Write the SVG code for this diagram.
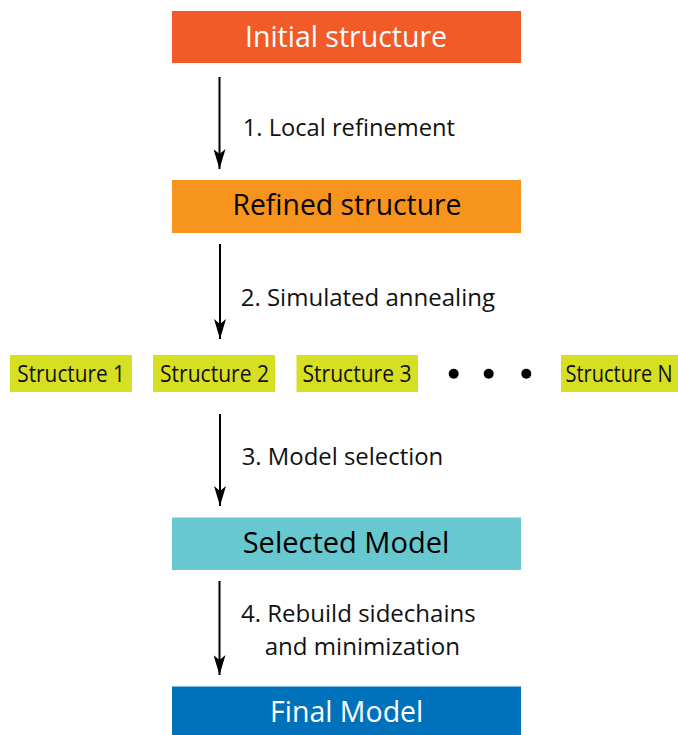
<svg xmlns="http://www.w3.org/2000/svg" width="678" height="735" viewBox="0 0 678 735">
<defs>
<marker id="ah" markerWidth="20" markerHeight="12" refX="20" refY="6" orient="auto" markerUnits="userSpaceOnUse" viewBox="0 0 20 12">
<path d="M0,0 L20,6 L0,12 L5,6 Z" fill="#000"/>
</marker>
<style>
text{font-family:"Open Sans","Noto Sans","Liberation Sans",sans-serif}
.title{font-size:30px}
.lbl{font-size:23px;fill:#111}
.st{font-size:23px;fill:#111}
.conn line{stroke:#000;stroke-width:2;fill:none}
</style>
</defs>
<rect width="678" height="735" fill="#fff"/>
<g id="initial">
<rect x="172" y="11" width="349" height="52" fill="#F15A29"/>
<text class="title" x="245" y="46.5" fill="#fff" textLength="202" lengthAdjust="spacingAndGlyphs">Initial structure</text>
</g>
<g id="refined">
<rect x="172" y="180" width="349" height="53" fill="#F7941D"/>
<text class="title" x="232.5" y="214.5" fill="#000" textLength="229" lengthAdjust="spacingAndGlyphs">Refined structure</text>
</g>
<g id="s1">
<rect x="10" y="355" width="122" height="37" fill="#D7DF23"/>
<text class="st" x="17.3" y="382.3" textLength="107.7" lengthAdjust="spacingAndGlyphs">Structure 1</text>
</g>
<g id="s2">
<rect x="153" y="355" width="122" height="37" fill="#D7DF23"/>
<text class="st" x="160" y="382.3" textLength="109" lengthAdjust="spacingAndGlyphs">Structure 2</text>
</g>
<g id="s3">
<rect x="296.5" y="355" width="121.5" height="37" fill="#D7DF23"/>
<text class="st" x="302.5" y="382.3" textLength="109" lengthAdjust="spacingAndGlyphs">Structure 3</text>
</g>
<g id="dots" fill="#000">
<circle cx="453.7" cy="373.7" r="5"/>
<circle cx="488.7" cy="373.7" r="5"/>
<circle cx="526.3" cy="373.7" r="5"/>
</g>
<g id="sN">
<rect x="561" y="355" width="117" height="37" fill="#D7DF23"/>
<text class="st" x="565.5" y="382.3" textLength="107" lengthAdjust="spacingAndGlyphs">Structure N</text>
</g>
<g id="selected">
<rect x="172" y="517.5" width="349" height="52.5" fill="#67C8D0"/>
<text class="title" x="242.7" y="552.7" fill="#000" textLength="206.6" lengthAdjust="spacingAndGlyphs">Selected Model</text>
</g>
<g id="final">
<rect x="172" y="686.5" width="349" height="49" fill="#0072BC"/>
<text class="title" x="270" y="721.7" fill="#fff" textLength="153.3" lengthAdjust="spacingAndGlyphs">Final Model</text>
</g>
<g class="conn" id="connectors">
<line x1="219.5" y1="77" x2="219.5" y2="169" marker-end="url(#ah)"/>
<line x1="220" y1="244" x2="220" y2="339" marker-end="url(#ah)"/>
<line x1="220" y1="414" x2="220" y2="506" marker-end="url(#ah)"/>
<line x1="219.5" y1="581" x2="219.5" y2="675" marker-end="url(#ah)"/>
</g>
<g id="labels">
<text class="lbl" x="242.7" y="135.6" textLength="212.3" lengthAdjust="spacingAndGlyphs">1. Local refinement</text>
<text class="lbl" x="240.7" y="306" textLength="254.3" lengthAdjust="spacingAndGlyphs">2. Simulated annealing</text>
<text class="lbl" x="241.7" y="465" textLength="201.6" lengthAdjust="spacingAndGlyphs">3. Model selection</text>
<text class="lbl" x="241" y="621.7" textLength="234.7" lengthAdjust="spacingAndGlyphs">4. Rebuild sidechains</text>
<text class="lbl" x="264.7" y="655" textLength="195.3" lengthAdjust="spacingAndGlyphs">and minimization</text>
</g>
</svg>
